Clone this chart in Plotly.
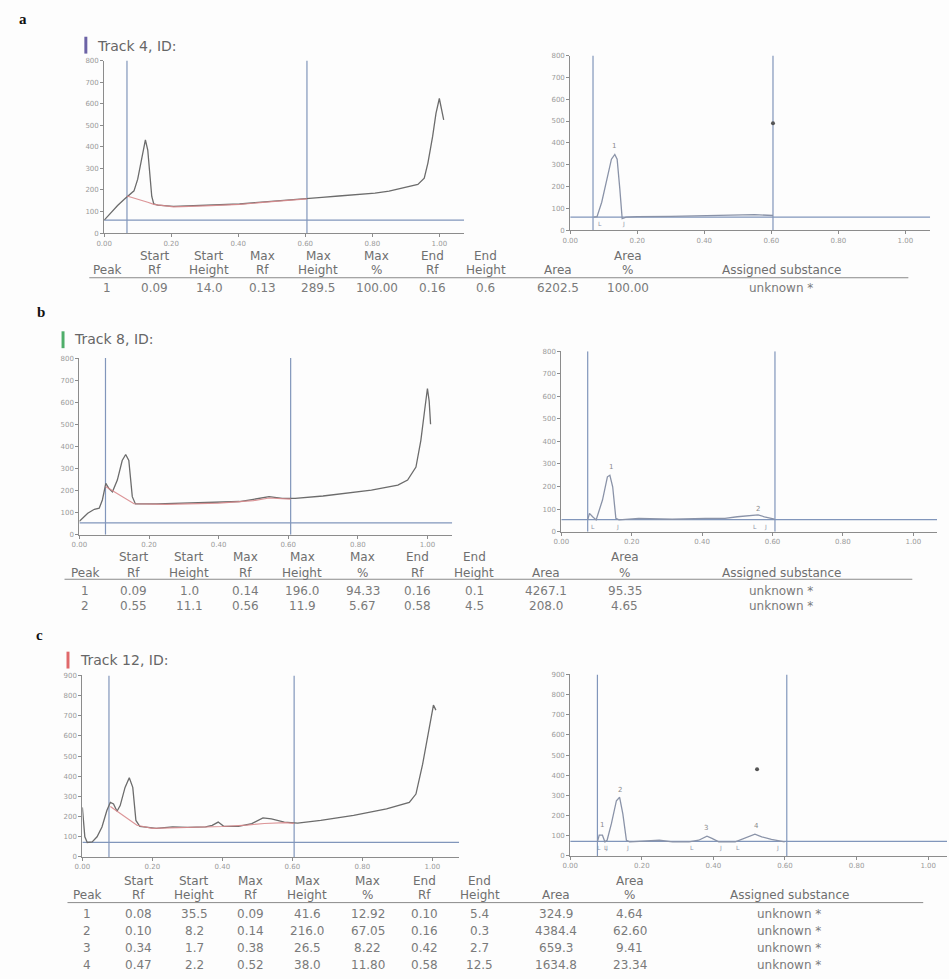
import plotly.graph_objects as go

W, H = 949, 979

# ---------------- data ----------------
RF_TICKS = [0.0, 0.2, 0.4, 0.6, 0.8, 1.0]
RF_TICK_TEXT = ["0.00", "0.20", "0.40", "0.60", "0.80", "1.00"]
AU_TICKS_800 = [0, 100, 200, 300, 400, 500, 600, 700, 800]
AU_TICKS_900 = [0, 100, 200, 300, 400, 500, 600, 700, 800, 900]

HEAD_1 = ["", "Start", "Start", "Max", "Max", "Max", "End", "End", "", "Area", ""]
HEAD_2 = ["Peak", "Rf", "Height", "Rf", "Height", "%", "Rf", "Height", "Area", "%", "Assigned substance"]

# ---- Track 4 ----
t4_name = "Track 4, ID:"
t4_raw_rf = [0.00, 0.02, 0.04, 0.06, 0.075, 0.089, 0.100, 0.110, 0.118, 0.123, 0.130, 0.136, 0.142, 0.148,
             0.16, 0.207, 0.25, 0.30, 0.35, 0.404, 0.45, 0.50, 0.55, 0.606, 0.65, 0.70, 0.75, 0.808, 0.85,
             0.897, 0.936, 0.955, 0.966, 0.98, 0.99, 1.000, 1.007, 1.013]
t4_raw_au = [60, 95, 128, 157, 178, 196, 250, 330, 405, 432, 385, 270, 170, 135,
             130, 124, 126, 128, 131, 135, 141, 148, 155, 161, 166, 172, 178, 185, 195,
             211, 226, 255, 326, 448, 555, 624, 570, 525]
t4_base_rf = [0.068, 0.100, 0.130, 0.148, 0.207, 0.30, 0.404, 0.50, 0.605]
t4_base_au = [172, 158, 143, 133, 122, 126, 133, 146, 159]
t4_corr_rf = [0.070, 0.080, 0.094, 0.108, 0.123, 0.133, 0.140, 0.148, 0.155, 0.167, 0.20, 0.30, 0.40,
              0.50, 0.55, 0.605]
t4_corr_au = [60, 62, 128, 219, 325, 347, 325, 189, 53, 60, 62, 63, 65, 69, 71, 67]
t4_window = [0.068, 0.605]
t4_zero = 60
t4_marks_rf = [0.605]
t4_marks_au = [490]

t4_peak = [1]
t4_start_rf = [0.09]
t4_start_h = [14.0]
t4_max_rf = [0.13]
t4_max_h = [289.5]
t4_max_pct = [100.00]
t4_end_rf = [0.16]
t4_end_h = [0.6]
t4_area = [6202.5]
t4_area_pct = [100.00]
t4_subst = ["unknown *"]

# ---- Track 8 ----
t8_name = "Track 8, ID:"
t8_raw_rf = [0.00, 0.024, 0.043, 0.057, 0.066, 0.076, 0.085, 0.095, 0.109, 0.123, 0.133, 0.142, 0.152, 0.161,
             0.223, 0.30, 0.365, 0.46, 0.50, 0.545, 0.583, 0.62, 0.70, 0.744, 0.839, 0.915, 0.943, 0.967,
             0.981, 0.993, 1.000, 1.005, 1.009]
t8_raw_au = [60, 97, 115, 120, 157, 232, 209, 194, 247, 336, 363, 336, 172, 139,
             139, 142, 145, 150, 160, 172, 164, 164, 175, 184, 202, 224, 247, 306,
             426, 576, 662, 605, 500]
t8_base_rf = [0.075, 0.100, 0.130, 0.157, 0.25, 0.40, 0.50, 0.545, 0.607]
t8_base_au = [218, 195, 168, 140, 137, 143, 154, 166, 161]
t8_corr_rf = [0.075, 0.080, 0.089, 0.099, 0.117, 0.131, 0.138, 0.146, 0.155, 0.164, 0.22, 0.315, 0.41,
              0.465, 0.50, 0.545, 0.559, 0.577, 0.606]
t8_corr_au = [52, 81, 66, 52, 140, 243, 250, 199, 59, 52, 59, 55, 59, 59, 66, 72, 74, 66, 55]
t8_window = [0.075, 0.607]
t8_zero = 53
t8_marks_rf = []
t8_marks_au = []

t8_peak = [1, 2]
t8_start_rf = [0.09, 0.55]
t8_start_h = [1.0, 11.1]
t8_max_rf = [0.14, 0.56]
t8_max_h = [196.0, 11.9]
t8_max_pct = [94.33, 5.67]
t8_end_rf = [0.16, 0.58]
t8_end_h = [0.1, 4.5]
t8_area = [4267.1, 208.0]
t8_area_pct = [95.35, 4.65]
t8_subst = ["unknown *", "unknown *"]

# ---- Track 12 ----
t12_name = "Track 12, ID:"
t12_raw_rf = [0.000, 0.007, 0.014, 0.028, 0.042, 0.056, 0.070, 0.080, 0.089, 0.099, 0.108, 0.122, 0.134,
              0.144, 0.153, 0.164, 0.211, 0.258, 0.30, 0.352, 0.371, 0.388, 0.404, 0.446, 0.484, 0.516,
              0.540, 0.577, 0.615, 0.681, 0.775, 0.869, 0.934, 0.953, 0.972, 0.991, 1.003, 1.010]
t12_raw_au = [246, 100, 72, 75, 100, 149, 230, 271, 263, 227, 255, 345, 393,
              345, 181, 152, 142, 149, 147, 149, 157, 173, 152, 152, 165, 194,
              189, 173, 168, 181, 206, 238, 271, 312, 459, 638, 753, 728]
t12_base_rf = [0.080, 0.100, 0.130, 0.156, 0.20, 0.30, 0.37, 0.40, 0.47, 0.52, 0.58, 0.605]
t12_base_au = [250, 225, 190, 157, 142, 145, 149, 151, 158, 166, 170, 167]
t12_corr_rf = [0.076, 0.081, 0.090, 0.097, 0.103, 0.115, 0.129, 0.138, 0.147, 0.157, 0.166, 0.249, 0.286,
               0.332, 0.359, 0.382, 0.396, 0.415, 0.461, 0.488, 0.516, 0.535, 0.562, 0.599]
t12_corr_au = [70, 103, 103, 70, 78, 160, 274, 291, 209, 78, 70, 78, 70,
               70, 78, 98, 87, 70, 70, 87, 108, 95, 82, 70]
t12_window = [0.076, 0.605]
t12_zero = 72
t12_marks_rf = [0.522]
t12_marks_au = [430]

t12_peak = [1, 2, 3, 4]
t12_start_rf = [0.08, 0.10, 0.34, 0.47]
t12_start_h = [35.5, 8.2, 1.7, 2.2]
t12_max_rf = [0.09, 0.14, 0.38, 0.52]
t12_max_h = [41.6, 216.0, 26.5, 38.0]
t12_max_pct = [12.92, 67.05, 8.22, 11.80]
t12_end_rf = [0.10, 0.16, 0.42, 0.58]
t12_end_h = [5.4, 0.3, 2.7, 12.5]
t12_area = [324.9, 4384.4, 659.3, 1634.8]
t12_area_pct = [4.64, 62.60, 9.41, 23.34]
t12_subst = ["unknown *", "unknown *", "unknown *", "unknown *"]

TRACKS = [
    dict(name=t4_name, raw=(t4_raw_rf, t4_raw_au), base=(t4_base_rf, t4_base_au), corr=(t4_corr_rf, t4_corr_au),
         window=t4_window, zero=t4_zero, marks=(t4_marks_rf, t4_marks_au),
         table=[t4_peak, t4_start_rf, t4_start_h, t4_max_rf, t4_max_h, t4_max_pct, t4_end_rf, t4_end_h,
                t4_area, t4_area_pct, t4_subst]),
    dict(name=t8_name, raw=(t8_raw_rf, t8_raw_au), base=(t8_base_rf, t8_base_au), corr=(t8_corr_rf, t8_corr_au),
         window=t8_window, zero=t8_zero, marks=(t8_marks_rf, t8_marks_au),
         table=[t8_peak, t8_start_rf, t8_start_h, t8_max_rf, t8_max_h, t8_max_pct, t8_end_rf, t8_end_h,
                t8_area, t8_area_pct, t8_subst]),
    dict(name=t12_name, raw=(t12_raw_rf, t12_raw_au), base=(t12_base_rf, t12_base_au),
         corr=(t12_corr_rf, t12_corr_au), window=t12_window, zero=t12_zero, marks=(t12_marks_rf, t12_marks_au),
         table=[t12_peak, t12_start_rf, t12_start_h, t12_max_rf, t12_max_h, t12_max_pct, t12_end_rf, t12_end_h,
                t12_area, t12_area_pct, t12_subst]),
]

COL_FMT = ["{:d}", "{:.2f}", "{:.1f}", "{:.2f}", "{:.1f}", "{:.2f}", "{:.2f}", "{:.1f}", "{:.1f}", "{:.2f}", "{}"]

# ---------------- layout geometry (pixels) ----------------
GEO = [
    dict(letter="a", letter_xy=(15, 15), bar=(77, 33, 80, 50), bar_color="#6c63a6", title_xy=(88, 42),
         left=(97, 435, 460, 57, 231), right=(567, 905, 930, 52, 228), ymax=800,
         cols=[100, 148, 203, 257, 313, 372, 428, 482, 555, 625, 780],
         head_y=(254, 268), rule=(82, 908, 276), rows_y=[286]),
    dict(letter="b", letter_xy=(33, 311), bar=(54, 330, 57, 347), bar_color="#4fae6a", title_xy=(65, 338),
         left=(72, 423, 448, 357, 535), right=(558, 913, 937, 350, 532), ymax=800,
         cols=[78, 127, 183, 240, 297, 358, 413, 470, 543, 622, 780],
         head_y=(558, 574), rule=(57, 912, 580), rows_y=[592, 607]),
    dict(letter="c", letter_xy=(32, 636), bar=(59, 653, 62, 670), bar_color="#e0696b", title_xy=(71, 661),
         left=(75, 428, 455, 677, 860), right=(567, 928, 947, 676, 859), ymax=900,
         cols=[80, 132, 188, 245, 302, 363, 420, 476, 553, 627, 788],
         head_y=(884, 898), rule=(60, 923, 906), rows_y=[917, 935, 952, 969]),
]

RAW_COL = "#6c6c6c"
BASE_COL = "#d98a8d"
BLUE = "#8196bb"
CORR_COL = "#8a93a8"
AXIS_COL = "#8c8c8c"
TXT_COL = "#6f6f6f"
FONT = "DejaVu Sans"

fig = go.Figure()
layout = dict(width=W, height=H, margin=dict(l=0, r=0, t=0, b=0), autosize=False,
              paper_bgcolor="#fdfdfd", plot_bgcolor="rgba(0,0,0,0)", showlegend=False,
              font=dict(family=FONT, color=TXT_COL))
annotations = []
shapes = []


def px_x(p):
    return p / W


def px_y(p):
    return 1 - p / H


def add_axes(idx, box, ymax):
    x0, xone, xend, ytop, ybot = box
    xmax = (xend - x0) / (xone - x0)
    ax = dict(showline=True, linecolor=AXIS_COL, linewidth=1, ticks="outside", ticklen=3,
              tickcolor=AXIS_COL, showgrid=False, zeroline=False,
              tickfont=dict(size=7, color="#9a9a9a", family=FONT), fixedrange=True)
    layout[f"xaxis{idx}"] = dict(ax, domain=[px_x(x0), px_x(xend)], range=[0, xmax], anchor=f"y{idx}",
                                 tickvals=RF_TICKS, ticktext=RF_TICK_TEXT)
    ticks = AU_TICKS_900 if ymax == 900 else AU_TICKS_800
    layout[f"yaxis{idx}"] = dict(ax, domain=[px_y(ybot), px_y(ytop)], range=[0, ymax], anchor=f"x{idx}",
                                 tickvals=ticks, ticktext=[str(t) for t in ticks])
    return xmax


idx = 0
for tr, g in zip(TRACKS, GEO):
    ymax = g["ymax"]
    # ---- left: raw densitogram ----
    idx += 1
    xmax = add_axes(idx, g["left"], ymax)
    xa, ya = f"x{idx}", f"y{idx}"
    fig.add_trace(go.Scatter(x=[0, xmax], y=[tr["zero"], tr["zero"]], mode="lines",
                             line=dict(color=BLUE, width=1.2), xaxis=xa, yaxis=ya, hoverinfo="skip"))
    for w in tr["window"]:
        fig.add_trace(go.Scatter(x=[w, w], y=[0, ymax], mode="lines", line=dict(color=BLUE, width=1.2),
                                 xaxis=xa, yaxis=ya, hoverinfo="skip"))
    fig.add_trace(go.Scatter(x=tr["raw"][0], y=tr["raw"][1], mode="lines",
                             line=dict(color=RAW_COL, width=1.3), xaxis=xa, yaxis=ya, hoverinfo="skip"))
    fig.add_trace(go.Scatter(x=tr["base"][0], y=tr["base"][1], mode="lines",
                             line=dict(color=BASE_COL, width=1.2), opacity=0.9, xaxis=xa, yaxis=ya,
                             hoverinfo="skip"))

    # ---- right: baseline-corrected peaks ----
    idx += 1
    xmax = add_axes(idx, g["right"], ymax)
    xa, ya = f"x{idx}", f"y{idx}"
    fig.add_trace(go.Scatter(x=[0, xmax], y=[tr["zero"], tr["zero"]], mode="lines",
                             line=dict(color=BLUE, width=1.2), xaxis=xa, yaxis=ya, hoverinfo="skip"))
    for w in tr["window"]:
        fig.add_trace(go.Scatter(x=[w, w], y=[0, ymax], mode="lines", line=dict(color=BLUE, width=1.2),
                                 xaxis=xa, yaxis=ya, hoverinfo="skip"))
    fig.add_trace(go.Scatter(x=tr["corr"][0], y=tr["corr"][1], mode="lines",
                             line=dict(color=CORR_COL, width=1.3), xaxis=xa, yaxis=ya, hoverinfo="skip"))
    if tr["marks"][0]:
        fig.add_trace(go.Scatter(x=tr["marks"][0], y=tr["marks"][1], mode="markers",
                                 marker=dict(color="#555555", size=4), xaxis=xa, yaxis=ya, hoverinfo="skip"))
    tbl = tr["table"]
    for pk, mrf, mh, srf, erf in zip(tbl[0], tbl[3], tbl[4], tbl[1], tbl[6]):
        annotations.append(dict(x=mrf, y=tr["zero"] + mh, xref=xa, yref=ya, text=str(pk), showarrow=False,
                                yanchor="bottom", yshift=2, font=dict(size=7, color="#8a8a8a")))
        for r, s in ((srf, "L"), (erf, "J")):
            annotations.append(dict(x=r, y=tr["zero"], xref=xa, yref=ya, text=s, showarrow=False,
                                    yanchor="top", yshift=-1, font=dict(size=6, color="#8a93a8")))

    # ---- decorations: letter, title, table ----
    lx, ly = g["letter_xy"]
    annotations.append(dict(x=px_x(lx), y=px_y(ly), xref="paper", yref="paper", text="<b>" + g["letter"] + "</b>",
                            showarrow=False, xanchor="center", yanchor="middle",
                            font=dict(family="Liberation Serif", size=15, color="#111111")))
    bx0, by0, bx1, by1 = g["bar"]
    shapes.append(dict(type="rect", xref="paper", yref="paper", x0=px_x(bx0), x1=px_x(bx1),
                       y0=px_y(by1), y1=px_y(by0), fillcolor=g["bar_color"], line=dict(width=0)))
    tx, ty = g["title_xy"]
    annotations.append(dict(x=px_x(tx), y=px_y(ty), xref="paper", yref="paper", text=tr["name"],
                            showarrow=False, xanchor="left", yanchor="middle",
                            font=dict(size=14, color="#666666")))
    h1, h2 = g["head_y"]
    for cx, t1, t2 in zip(g["cols"], HEAD_1, HEAD_2):
        if t1:
            annotations.append(dict(x=px_x(cx), y=px_y(h1), xref="paper", yref="paper", text=t1,
                                    showarrow=False, xanchor="center", yanchor="middle",
                                    font=dict(size=12, color=TXT_COL)))
        annotations.append(dict(x=px_x(cx), y=px_y(h2), xref="paper", yref="paper", text=t2,
                                showarrow=False, xanchor="center", yanchor="middle",
                                font=dict(size=12, color=TXT_COL)))
    rx0, rx1, ry = g["rule"]
    shapes.append(dict(type="line", xref="paper", yref="paper", x0=px_x(rx0), x1=px_x(rx1),
                       y0=px_y(ry), y1=px_y(ry), line=dict(color="#8a8a8a", width=1)))
    for r, ry_px in enumerate(g["rows_y"]):
        for cx, col, fmt in zip(g["cols"], tbl, COL_FMT):
            annotations.append(dict(x=px_x(cx), y=px_y(ry_px), xref="paper", yref="paper",
                                    text=fmt.format(col[r]), showarrow=False, xanchor="center",
                                    yanchor="middle", font=dict(size=12, color="#7a7a7a")))

layout["annotations"] = annotations
layout["shapes"] = shapes
fig.update_layout(**layout)
fig.write_html("out.html", config=dict(displayModeBar=False),
               post_script="document.body.style.margin='0';document.body.style.overflow='hidden';")
